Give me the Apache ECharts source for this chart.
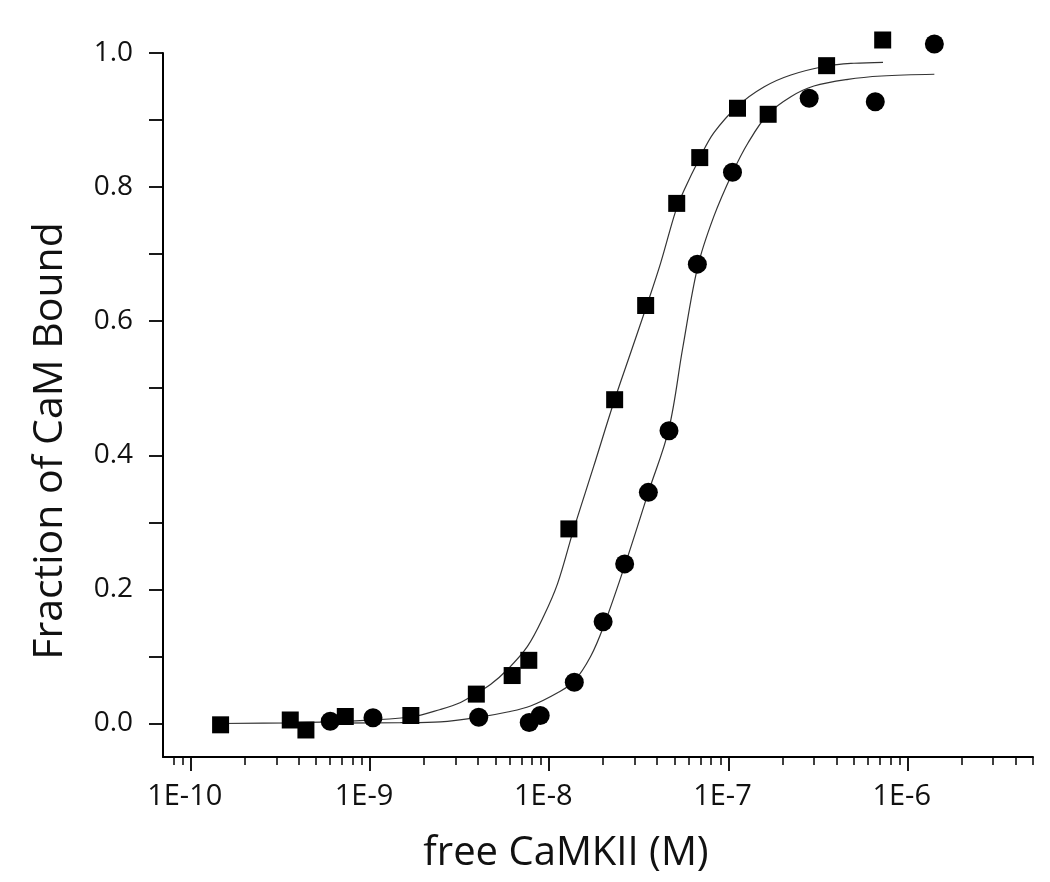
<!DOCTYPE html>
<html>
<head>
<meta charset="utf-8">
<script src="https://cdn.jsdelivr.net/npm/echarts@6/dist/echarts.min.js"></script>
<style>
html,body{margin:0;padding:0;background:#ffffff;}
#chart{width:1050px;height:882px;}
</style>
</head>
<body>
<div id="chart"></div>
<script>
// ---- data ----
// squares (x = free CaMKII in M, y = fraction bound)
const squareX = [1.467e-10, 3.59e-10, 4.39e-10, 7.28e-10, 1.69e-9, 3.92e-9, 6.21e-9, 7.69e-9, 1.287e-8, 2.317e-8, 3.451e-8, 5.143e-8, 6.914e-8, 1.123e-7, 1.665e-7, 3.528e-7, 7.25e-7];
const squareY = [-0.002, 0.0052, -0.0097, 0.0104, 0.0119, 0.0438, 0.0715, 0.0942, 0.2902, 0.4829, 0.6234, 0.7757, 0.8440, 0.9176, 0.9086, 0.9811, 1.0194];
// circles
const circleX = [6.00e-10, 1.039e-9, 4.043e-9, 7.731e-9, 8.905e-9, 1.38e-8, 1.998e-8, 2.635e-8, 3.573e-8, 4.657e-8, 6.704e-8, 1.053e-7, 2.82e-7, 6.592e-7, 1.408e-6];
const circleY = [0.0034, 0.0086, 0.0094, 0.0015, 0.0119, 0.0615, 0.1517, 0.2380, 0.3447, 0.4367, 0.6851, 0.8222, 0.9325, 0.9274, 1.0134];
// fitted curve through squares
const fitSquareX = [1.467e-10, 3.59e-10, 7.28e-10, 1.69e-9, 2.47e-9, 3.20e-9, 3.98e-9, 4.70e-9, 5.85e-9, 7.56e-9, 9.29e-9, 1.113e-8, 1.367e-8, 1.768e-8, 2.287e-8, 2.846e-8, 3.541e-8, 4.186e-8, 5.077e-8, 5.627e-8, 6.914e-8, 8.277e-8, 1.127e-7, 1.575e-7, 2.229e-7, 3.541e-7, 5.006e-7, 7.278e-7];
const fitSquareY = [0.000, 0.0010, 0.0034, 0.0097, 0.0209, 0.0313, 0.0462, 0.0581, 0.0805, 0.115, 0.1595, 0.2086, 0.2891, 0.3830, 0.4784, 0.5529, 0.6274, 0.6870, 0.7645, 0.7943, 0.8435, 0.8808, 0.9210, 0.9493, 0.9672, 0.9806, 0.9847, 0.9861];
// fitted curve through circles
const fitCircleX = [6.00e-10, 1.477e-9, 2.471e-9, 4.028e-9, 5.848e-9, 7.862e-9, 1.113e-8, 1.376e-8, 1.701e-8, 2.011e-8, 2.669e-8, 3.587e-8, 4.639e-8, 5.555e-8, 6.738e-8, 8.277e-8, 1.057e-7, 1.282e-7, 1.658e-7, 2.229e-7, 2.996e-7, 4.639e-7, 7.167e-7, 1.408e-6];
const fitCircleY = [0.0006, 0.0012, 0.0025, 0.0092, 0.0171, 0.0261, 0.0458, 0.0630, 0.0999, 0.1450, 0.2395, 0.3462, 0.4382, 0.5600, 0.6815, 0.7560, 0.8222, 0.8654, 0.9086, 0.9349, 0.9508, 0.9608, 0.9657, 0.9683];
// axes
const xMajorTicks = [1e-10, 1e-9, 1e-8, 1e-7, 1e-6];
const xTickLabels = ['1E-10', '1E-9', '1E-8', '1E-7', '1E-6'];
const xMinorTicks = [8e-11, 9e-11,
  2e-10, 3e-10, 4e-10, 5e-10, 6e-10, 7e-10, 8e-10, 9e-10,
  2e-9, 3e-9, 4e-9, 5e-9, 6e-9, 7e-9, 8e-9, 9e-9,
  2e-8, 3e-8, 4e-8, 5e-8, 6e-8, 7e-8, 8e-8, 9e-8,
  2e-7, 3e-7, 4e-7, 5e-7, 6e-7, 7e-7, 8e-7, 9e-7,
  2e-6, 3e-6, 4e-6, 4.999e-6];
const yTickValues = [0, 0.1, 0.2, 0.3, 0.4, 0.5, 0.6, 0.7, 0.8, 0.9, 1.0];
const yLabelValues = [0, 0.2, 0.4, 0.6, 0.8, 1.0];
const xTitle = 'free CaMKII (M)';
const yTitle = 'Fraction of CaM Bound';

const pairs = (xs, ys) => xs.map((x, i) => [x, ys[i]]);
const FONT = "'Open Sans', 'Noto Sans', sans-serif";

const chart = echarts.init(document.getElementById('chart'), null, {renderer: 'canvas'});
chart.setOption({
  animation: false,
  backgroundColor: '#ffffff',
  grid: {left: 163, right: 17, top: 53, bottom: 125, containLabel: false, outerBoundsMode: 'none'},
  xAxis: [{
    type: 'log', logBase: 10, min: 7e-11, max: 5e-6, position: 'bottom',
    axisLine: {show: true, onZero: false, lineStyle: {color: '#000', width: 2}},
    axisTick: {show: true, customValues: xMajorTicks, length: 14, inside: false, lineStyle: {color: '#000', width: 1.8}},
    minorTick: {show: false},
    splitLine: {show: false},
    axisLabel: {
      customValues: xMajorTicks,
      formatter: v => {
        const i = xMajorTicks.findIndex(t => Math.abs(Math.log10(t) - Math.log10(v)) < 1e-6);
        return i >= 0 ? xTickLabels[i] : '';
      },
      fontSize: 29, fontFamily: FONT, color: '#111', margin: 25, padding: [0, 12, 0, 0]
    },
    name: xTitle, nameLocation: 'middle', nameGap: 77,
    nameTextStyle: {fontSize: 40, fontFamily: FONT, color: '#111', padding: [0, 64, 0, 0]}
  }, {
    type: 'log', logBase: 10, min: 7e-11, max: 5e-6, position: 'bottom',
    axisLine: {show: false, onZero: false},
    axisTick: {show: true, customValues: xMinorTicks, length: 8, inside: false, lineStyle: {color: '#000', width: 1.5}},
    axisLabel: {show: false},
    splitLine: {show: false},
    minorTick: {show: false}
  }],
  yAxis: {
    type: 'value', min: -0.05, max: 1.0,
    axisLine: {show: true, onZero: false, lineStyle: {color: '#000', width: 2}},
    axisTick: {show: true, customValues: yTickValues, length: 14, inside: false, lineStyle: {color: '#000', width: 1.8}},
    splitLine: {show: false},
    axisLabel: {
      customValues: yLabelValues,
      formatter: v => Number(v).toFixed(1),
      fontSize: 28, fontFamily: FONT, color: '#111', margin: 30
    },
    name: yTitle, nameLocation: 'middle', nameGap: 92,
    nameTextStyle: {fontSize: 41, fontFamily: FONT, color: '#111', padding: [0, 72, 0, 0]}
  },
  series: [
    {type: 'line', xAxisIndex: 0, data: pairs(fitSquareX, fitSquareY), showSymbol: false, smooth: 0.35,
     lineStyle: {color: '#333', width: 1.2}, z: 1, silent: true, clip: false},
    {type: 'line', xAxisIndex: 0, data: pairs(fitCircleX, fitCircleY), showSymbol: false, smooth: 0.35,
     lineStyle: {color: '#333', width: 1.2}, z: 1, silent: true, clip: false},
    {type: 'scatter', xAxisIndex: 0, data: pairs(squareX, squareY), symbol: 'rect', symbolSize: 17,
     itemStyle: {color: '#000', opacity: 1}, z: 3, clip: false},
    {type: 'scatter', xAxisIndex: 0, data: pairs(circleX, circleY), symbol: 'circle', symbolSize: 19,
     itemStyle: {color: '#000', opacity: 1}, z: 3, clip: false}
  ]
});
</script>
</body>
</html>
